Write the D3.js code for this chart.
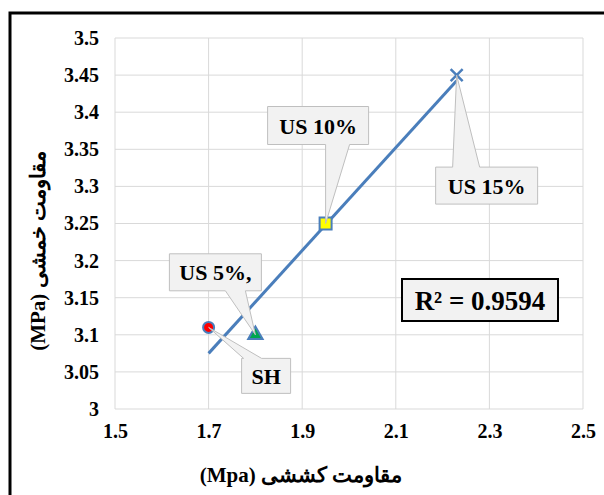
<!DOCTYPE html>
<html><head><meta charset="utf-8">
<script src="https://cdn.jsdelivr.net/npm/d3@7"></script>
<style>
html,body{margin:0;padding:0;background:#fff;}
svg{display:block;}
svg text{font-family:"Liberation Serif","Times New Roman",Tinos,"DejaVu Serif",serif !important;font-weight:bold;fill:#000;}
</style></head>
<body>
<svg id="c" width="604" height="495"></svg>
<script>
// ---- data ----
const pointNames = ["SH", "US 5%,", "US 10%", "US 15%"];
const tensile = [1.7, 1.8, 1.95, 2.23];
const flexural = [3.11, 3.10, 3.25, 3.45];
const markerTypes = ["circle", "triangle", "square", "x"];
const markerFills = ["#ff0000", "#00a651", "#ffff00", "none"];
const xTicks = [1.5, 1.7, 1.9, 2.1, 2.3, 2.5];
const yTicks = [3, 3.05, 3.1, 3.15, 3.2, 3.25, 3.3, 3.35, 3.4, 3.45, 3.5];
const xTitle = "(Mpa) مقاومت کششی";
const yTitle = "(MPa) مقاومت خمشی";

// ---- layout (callout boxes relative to their point, in px) ----
const callouts = [
  {box:[33, 31, 49, 35], side:"top", base:[35, 53]},
  {box:[-86, -81, 92, 37], side:"bottom", base:[-30, -10]},
  {box:[-58, -117, 101, 38], side:"bottom", base:[0, 24]},
  {box:[-21, 92, 102, 37], side:"top", base:[-4, 23]}
];

const svg = d3.select("#c");
const blue = "#4a7ebb";
const x = d3.scaleLinear().domain([1.5, 2.5]).range([115, 583]);
const y = d3.scaleLinear().domain([3.0, 3.5]).range([409, 38]);

// outer chart border
svg.append("rect").attr("x", 10).attr("y", 13).attr("width", 640).attr("height", 520)
  .attr("fill", "#fff").attr("stroke", "#000").attr("stroke-width", 3);

// gridlines
const g = svg.append("g");
g.selectAll(".vg").data(xTicks).join("line")
  .attr("x1", d => x(d)).attr("x2", d => x(d)).attr("y1", y(3.5)).attr("y2", y(3.0))
  .attr("stroke", "#d9d9d9").attr("stroke-width", 1);
g.selectAll(".hg").data(yTicks).join("line")
  .attr("x1", x(1.5)).attr("x2", x(2.5)).attr("y1", d => y(d)).attr("y2", d => y(d))
  .attr("stroke", "#d9d9d9").attr("stroke-width", 1);

// axes
const fmt = d => String(+d.toFixed(2));
const ax = svg.append("g").attr("transform", `translate(0,${y(3.0)})`)
  .call(d3.axisBottom(x).tickValues(xTicks).tickFormat(fmt).tickSize(0).tickPadding(15));
const ay = svg.append("g").attr("transform", `translate(${x(1.5)},0)`)
  .call(d3.axisLeft(y).tickValues(yTicks).tickFormat(fmt).tickSize(0).tickPadding(16));
[ax, ay].forEach(a => {
  a.select(".domain").remove();
  a.selectAll("text").attr("font-size", 20).attr("fill", "#000");
});

// axis titles
svg.append("text").attr("x", 301).attr("y", 482).attr("text-anchor", "middle")
  .attr("font-size", 21).attr("direction", "ltr").text(xTitle);
svg.append("text").attr("transform", "translate(45,251) rotate(-90)").attr("text-anchor", "middle")
  .attr("font-size", 21).attr("direction", "ltr").text(yTitle);

// trendline (least squares)
const n = tensile.length;
const mx = d3.mean(tensile), my = d3.mean(flexural);
let sxy = 0, sxx = 0, syy = 0;
for (let i = 0; i < n; i++) {
  sxy += (tensile[i] - mx) * (flexural[i] - my);
  sxx += (tensile[i] - mx) ** 2;
  syy += (flexural[i] - my) ** 2;
}
const slope = sxy / sxx, icpt = my - slope * mx;
const r2 = sxy * sxy / (sxx * syy);
const x0 = d3.min(tensile), x1 = d3.max(tensile);
svg.append("line")
  .attr("x1", x(x0)).attr("y1", y(icpt + slope * x0))
  .attr("x2", x(x1)).attr("y2", y(icpt + slope * x1))
  .attr("stroke", blue).attr("stroke-width", 3);

// markers
tensile.forEach((tv, i) => {
  const px = x(tv), py = y(flexural[i]);
  const t = markerTypes[i];
  if (t === "circle") {
    svg.append("circle").attr("cx", px).attr("cy", py).attr("r", 5.5)
      .attr("fill", markerFills[i]).attr("stroke", blue).attr("stroke-width", 2);
  } else if (t === "triangle") {
    svg.append("path").attr("d", d3.symbol(d3.symbolTriangle, 90)())
      .attr("transform", `translate(${px},${py})`)
      .attr("fill", markerFills[i]).attr("stroke", blue).attr("stroke-width", 2);
  } else if (t === "square") {
    svg.append("rect").attr("x", px - 6).attr("y", py - 6).attr("width", 12).attr("height", 12)
      .attr("fill", markerFills[i]).attr("stroke", blue).attr("stroke-width", 2);
  } else {
    svg.append("path").attr("d", `M${px-6},${py-6}L${px+6},${py+6}M${px-6},${py+6}L${px+6},${py-6}`)
      .attr("stroke", blue).attr("stroke-width", 2.5).attr("fill", "none");
  }
});

// callouts
callouts.forEach((c, i) => {
  const px = x(tensile[i]), py = y(flexural[i]);
  const bx = px + c.box[0], by = py + c.box[1], bw = c.box[2], bh = c.box[3];
  const b0 = px + c.base[0], b1 = px + c.base[1];
  let d;
  if (c.side === "bottom") {
    d = `M${bx},${by}H${bx+bw}V${by+bh}H${b1}L${px},${py}L${b0},${by+bh}H${bx}Z`;
  } else {
    d = `M${bx},${by}H${b0}L${px},${py}L${b1},${by}H${bx+bw}V${by+bh}H${bx}Z`;
  }
  svg.append("path").attr("d", d).attr("fill", "#f2f2f2").attr("stroke", "#bfbfbf").attr("stroke-width", 1);
  svg.append("text").attr("x", bx + bw / 2).attr("y", by + bh / 2 + 8).attr("text-anchor", "middle")
    .attr("font-size", 22).text(pointNames[i]);
});

// R² box
svg.append("rect").attr("x", 402).attr("y", 279).attr("width", 156).attr("height", 42)
  .attr("fill", "#f2f2f2").attr("stroke", "#000").attr("stroke-width", 2);
svg.append("text").attr("x", 480).attr("y", 310).attr("text-anchor", "middle")
  .attr("font-size", 27).text("R² = " + r2.toFixed(4));
</script>
</body></html>
